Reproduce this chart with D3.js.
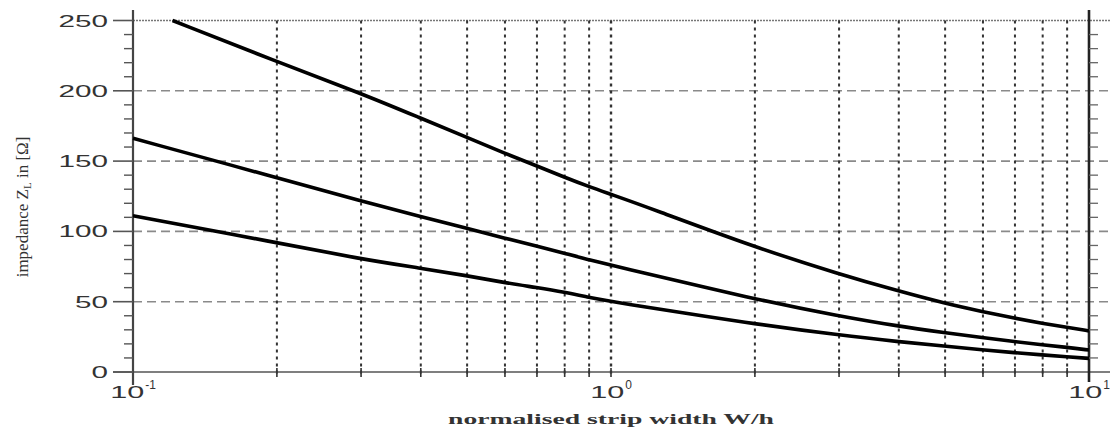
<!DOCTYPE html>
<html>
<head>
<meta charset="utf-8">
<script src="https://cdn.jsdelivr.net/npm/d3@7"></script>
<style>
  body { margin: 0; background: #fff; }
  svg { display: block; }
</style>
</head>
<body>
<div class="chart"></div>
<script>
// values (W/h -> impedance in ohm)
const xTop = [0.121, 0.2, 0.3, 0.4, 0.5, 0.6, 0.7, 0.8, 0.9, 1, 1.21, 2, 3, 4, 5, 6, 7, 8, 9, 10]
const zTop = [250, 220.7, 198.2, 180.5, 166.8, 155.5, 146.5, 138.5, 131.8, 126.4, 116.4, 88.7, 69.7, 57.5, 48.8, 42.9, 38.2, 34.6, 31.8, 29.2]

const xLow = [0.1, 0.2, 0.3, 0.4, 0.5, 0.6, 0.7, 0.8, 0.9, 1, 2, 3, 4, 5, 6, 7, 8, 9, 10]
const zMid = [166.2, 138.2, 121.6, 110.5, 102.2, 95.1, 89.6, 84.4, 79.7, 76.1, 51.7, 39.8, 32.5, 28, 24.4, 21.6, 19.2, 17.6, 15.6]
const zBot = [111.2, 92, 80.3, 73.8, 68.5, 63.5, 60, 56.7, 53.1, 50, 34.1, 26.3, 21.5, 18.5, 15.6, 13.7, 12.1, 10.9, 9.7]

const yTicks = [0, 50, 100, 150, 200, 250]
const xMajor = [0.1, 1, 10]
const xExp = ['-1', '0', '1']

const W = 1110, H = 436
const x0 = 133, x1 = 1089, yBot = 372, yTop = 20.5

const svg = d3.select('.chart')
    .append('svg')
    .attr('width', W)
    .attr('height', H)

const x = d3.scaleLog().domain([0.1, 10]).range([x0, x1])
const y = d3.scaleLinear().domain([0, 250]).range([yBot, yTop])

// minor positions of the log axis (2..9 of each decade)
const xMinor = x.ticks().filter(d => xMajor.indexOf(d) < 0)
const yMinor = d3.range(0, 251, 10).filter(d => d % 50 !== 0)

// horizontal dashed grid, runs past the right axis
svg.append('g')
    .selectAll('line')
    .data(yTicks.filter(d => d > 0 && d < 250))
    .enter()
    .append('line')
    .attr('x1', x0).attr('x2', W)
    .attr('y1', d => y(d)).attr('y2', d => y(d))
    .attr('stroke', '#8a8a8a')
    .attr('stroke-width', 1.6)
    .attr('stroke-dasharray', '9,5')

// top frame line, finely dotted
svg.append('line')
    .attr('x1', x0).attr('x2', W)
    .attr('y1', y(250)).attr('y2', y(250))
    .attr('stroke', '#777')
    .attr('stroke-width', 1.6)
    .attr('stroke-dasharray', '2,1')

// vertical dotted grid
svg.append('g')
    .selectAll('line')
    .data(xMinor.concat([1]))
    .enter()
    .append('line')
    .attr('x1', d => x(d)).attr('x2', d => x(d))
    .attr('y1', y(250)).attr('y2', yBot + 5)
    .attr('stroke', '#333')
    .attr('stroke-width', d => d === 1 ? 2.4 : 2)
    .attr('stroke-dasharray', '3,4')

// bottom axis line
svg.append('line')
    .attr('x1', 113).attr('x2', W)
    .attr('y1', yBot).attr('y2', yBot)
    .attr('stroke', '#555')
    .attr('stroke-width', 1.6)

// small ticks crossing the bottom axis
svg.append('g')
    .selectAll('line')
    .data(xMinor.concat([1]))
    .enter()
    .append('line')
    .attr('x1', d => x(d)).attr('x2', d => x(d))
    .attr('y1', yBot - 4).attr('y2', yBot + 5)
    .attr('stroke', '#333')
    .attr('stroke-width', 1.6)

// left axis
svg.append('line')
    .attr('x1', x0).attr('x2', x0)
    .attr('y1', 10).attr('y2', 385)
    .attr('stroke', '#444')
    .attr('stroke-width', 2.2)

svg.append('g')
    .selectAll('line')
    .data(yTicks)
    .enter()
    .append('line')
    .attr('x1', 113).attr('x2', x0)
    .attr('y1', d => y(d)).attr('y2', d => y(d))
    .attr('stroke', '#555')
    .attr('stroke-width', 1.6)

svg.append('g')
    .selectAll('line')
    .data(yMinor)
    .enter()
    .append('line')
    .attr('x1', 124).attr('x2', x0)
    .attr('y1', d => y(d)).attr('y2', d => y(d))
    .attr('stroke', '#555')
    .attr('stroke-width', 1.4)

// right axis, minor ticks point outwards
svg.append('line')
    .attr('x1', x1).attr('x2', x1)
    .attr('y1', 10).attr('y2', 382)
    .attr('stroke', '#222')
    .attr('stroke-width', 2.6)

svg.append('g')
    .selectAll('line')
    .data(yMinor)
    .enter()
    .append('line')
    .attr('x1', x1).attr('x2', x1 + 9)
    .attr('y1', d => y(d)).attr('y2', d => y(d))
    .attr('stroke', '#666')
    .attr('stroke-width', 1.3)

// y tick labels (wide, Helvetica-like)
svg.append('g')
    .selectAll('text')
    .data(yTicks)
    .enter()
    .append('text')
    .attr('x', 108)
    .attr('y', d => y(d) + 6)
    .attr('text-anchor', 'end')
    .attr('font-family', 'Liberation Sans, Arial, sans-serif')
    .attr('font-size', '17px')
    .attr('fill', '#333')
    .attr('textLength', d => String(d).length * 16.5)
    .attr('lengthAdjust', 'spacingAndGlyphs')
    .text(d => d)

// x tick labels 10^n
const xl = svg.append('g')
    .selectAll('text')
    .data(xMajor)
    .enter()
    .append('text')
    .attr('x', d => x(d))
    .attr('y', 398)
    .attr('text-anchor', 'middle')
    .attr('font-family', 'Liberation Sans, Arial, sans-serif')
    .attr('fill', '#333')

xl.append('tspan')
    .attr('font-size', '17px')
    .attr('textLength', 34)
    .attr('lengthAdjust', 'spacingAndGlyphs')
    .text('10')
xl.append('tspan')
    .attr('font-size', '12px')
    .attr('dy', -9)
    .attr('dx', 1)
    .text((d, i) => xExp[i])

// curves, smoothed through the read points
const line = d3.line()
    .x(d => x(d[0]))
    .y(d => y(d[1]))
    .curve(d3.curveBasis)

const series = [
    d3.zip(xTop, zTop),
    d3.zip(xLow, zMid),
    d3.zip(xLow, zBot)
]

svg.append('g')
    .selectAll('path')
    .data(series)
    .enter()
    .append('path')
    .attr('d', line)
    .attr('fill', 'none')
    .attr('stroke', '#000')
    .attr('stroke-width', 3.6)

// axis titles
svg.append('text')
    .attr('x', x(1))
    .attr('y', 424)
    .attr('text-anchor', 'middle')
    .attr('font-family', 'Liberation Serif, Times New Roman, serif')
    .attr('font-weight', 'bold')
    .attr('font-size', '15px')
    .attr('fill', '#333')
    .attr('textLength', 326)
    .attr('lengthAdjust', 'spacingAndGlyphs')
    .text('normalised strip width W/h')

const yt = svg.append('text')
    .attr('transform', 'translate(28,207) rotate(-90)')
    .attr('text-anchor', 'middle')
    .attr('font-family', 'Liberation Serif, Times New Roman, serif')
    .attr('font-size', '17px')
    .attr('fill', '#333')

yt.append('tspan').text('impedance Z')
yt.append('tspan').attr('font-size', '11px').attr('dy', 3).text('L')
yt.append('tspan').attr('dy', -3).text(' in [Ω]')
</script>
</body>
</html>
